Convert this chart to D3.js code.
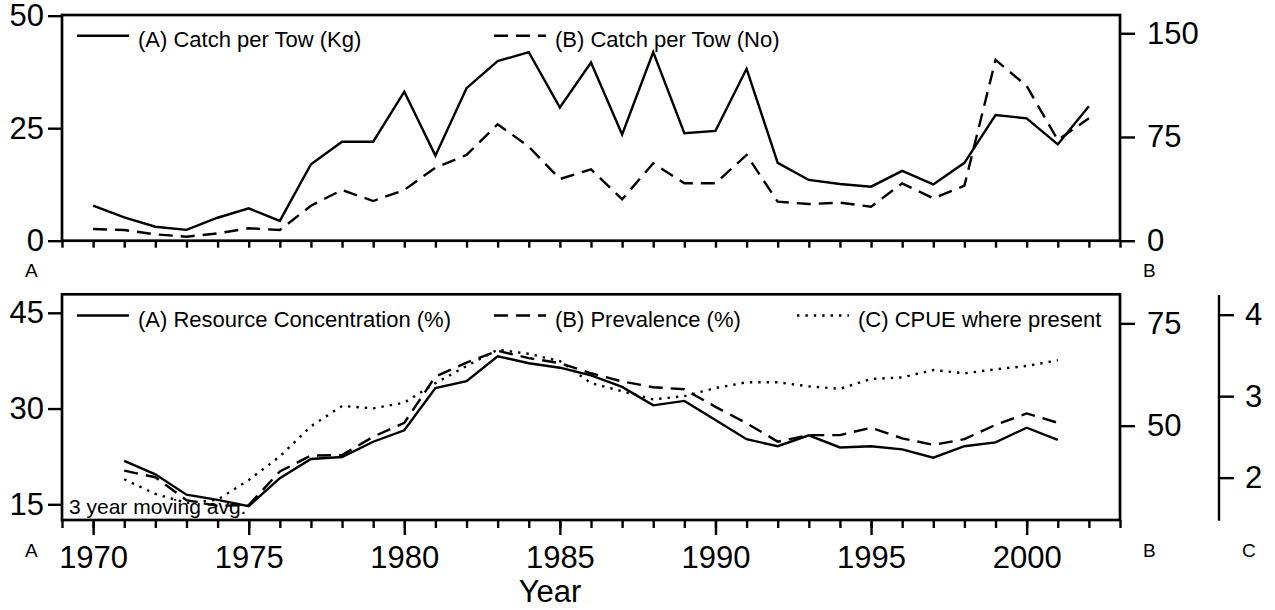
<!DOCTYPE html>
<html>
<head>
<meta charset="utf-8">
<script src="https://cdn.jsdelivr.net/npm/d3@7"></script>
<style>
  body { margin: 0; background: #fff; }
  svg text { font-family: "Liberation Sans", Arial, sans-serif; fill: #000; }
</style>
</head>
<body>
<svg id="chart" width="1275" height="610"></svg>
<script>
// top panel, 1970-2002
const topYears = [1970, 1971, 1972, 1973, 1974, 1975, 1976, 1977, 1978, 1979, 1980, 1981, 1982, 1983, 1984, 1985, 1986,
  1987, 1988, 1989, 1990, 1991, 1992, 1993, 1994, 1995, 1996, 1997, 1998, 1999, 2000, 2001, 2002];
const catchKg = [7.8, 5.2, 3.1, 2.4, 5.1, 7.2, 4.4, 17.0, 22.0, 22.0, 33.1, 18.9, 33.9, 39.9, 41.9, 29.6, 39.6,
  23.6, 41.9, 23.9, 24.4, 38.2, 17.3, 13.5, 12.6, 12.0, 15.5, 12.5, 17.3, 27.9, 27.2, 21.4, 29.9];
const catchNo = [8.5, 7.7, 4.6, 2.9, 5.3, 9.0, 7.7, 25.3, 36.7, 28.7, 36.7, 52.8, 62.0, 84.2, 68.0, 44.6, 51.6,
  29.9, 56.0, 41.5, 41.5, 62.0, 28.2, 26.5, 27.5, 24.6, 41.5, 30.7, 39.8, 130.7, 111.9, 72.8, 88.5];

// bottom panel, 3 year moving avg, 1971-2001
const botYears = [1971, 1972, 1973, 1974, 1975, 1976, 1977, 1978, 1979, 1980, 1981, 1982, 1983, 1984, 1985, 1986,
  1987, 1988, 1989, 1990, 1991, 1992, 1993, 1994, 1995, 1996, 1997, 1998, 1999, 2000, 2001];
const resConc = [21.8, 19.7, 16.5, 15.7, 14.7, 19.1, 22.1, 22.4, 24.8, 26.6, 33.2, 34.3, 38.2, 37.1, 36.4, 35.2,
  33.4, 30.5, 31.2, 28.2, 25.2, 24.1, 25.8, 23.9, 24.1, 23.6, 22.3, 24.1, 24.7, 27.0, 25.1];
const prevalence = [39.0, 37.4, 31.8, 30.4, 30.6, 38.8, 42.7, 42.8, 47.3, 50.7, 62.0, 65.4, 68.3, 66.5, 65.3, 62.8,
  60.8, 59.4, 58.9, 54.6, 50.6, 46.1, 47.7, 47.7, 49.5, 46.9, 45.3, 46.7, 50.2, 53.0, 50.7];
const cpue = [1.98, 1.80, 1.69, 1.73, 1.97, 2.26, 2.63, 2.88, 2.85, 2.92, 3.16, 3.37, 3.57, 3.52, 3.43, 3.16,
  3.06, 2.96, 3.00, 3.10, 3.17, 3.17, 3.12, 3.09, 3.21, 3.23, 3.32, 3.28, 3.33, 3.37, 3.44];

// tick values
const topLeftTicks = [0, 25, 50];
const topRightTicks = [0, 75, 150];
const botLeftTicks = [15, 30, 45];
const botRightTicks = [50, 75];
const cpueTicks = [2, 3, 4];
const yearLabels = [1970, 1975, 1980, 1985, 1990, 1995, 2000];

const svg = d3.select('#chart');
const left = 62, right = 1120;
const top1 = 15, bot1 = 240.7;
const top2 = 294.3, bot2 = 520;
const lw = 2.4;
const fmt = d3.format('d');

const x = d3.scaleLinear().domain([1969, 2003]).range([left, right]);
const allYears = d3.range(1969, 2004);

const yKg = d3.scaleLinear().domain([0, 50.15]).range([bot1, top1]);
const yNo = d3.scaleLinear().domain([0, 163.2]).range([bot1, top1]);
const yRes = d3.scaleLinear().domain([12.54, 47.9]).range([bot2, top2]);
const yPrev = d3.scaleLinear().domain([26.95, 82.1]).range([bot2, top2]);
const yCpue = d3.scaleLinear().domain([1.48, 4.25]).range([bot2, top2]);

function styleAxis(g, fontSize) {
  g.select('.domain').remove();
  g.selectAll('.tick line').attr('stroke', '#000').attr('stroke-width', lw);
  g.selectAll('.tick text').style('font-size', fontSize + 'px').attr('fill', '#000');
}

function drawLine(years, vals, y, dash) {
  const line = d3.line().x((d, i) => x(years[i])).y(d => y(d));
  svg.append('path')
    .datum(vals)
    .attr('fill', 'none')
    .attr('stroke', '#000')
    .attr('stroke-width', lw)
    .attr('stroke-linejoin', 'miter')
    .attr('stroke-dasharray', dash)
    .attr('d', line);
}

// ---- top panel ----
svg.append('g').attr('transform', `translate(${left},0)`)
  .call(d3.axisLeft(yKg).tickValues(topLeftTicks).tickSize(14).tickPadding(4).tickFormat(fmt))
  .call(g => styleAxis(g, 31));
svg.append('g').attr('transform', `translate(${right},0)`)
  .call(d3.axisRight(yNo).tickValues(topRightTicks).tickSize(15).tickPadding(12).tickFormat(fmt))
  .call(g => styleAxis(g, 31));
svg.append('g').attr('transform', `translate(0,${bot1})`)
  .call(d3.axisBottom(x).tickValues(allYears).tickSize(7).tickFormat(''))
  .call(g => styleAxis(g, 31));

drawLine(topYears, catchKg, yKg, null);
drawLine(topYears, catchNo, yNo, '14,8');

svg.append('rect')
  .attr('x', left).attr('y', top1)
  .attr('width', right - left).attr('height', bot1 - top1)
  .attr('fill', 'none').attr('stroke', '#000').attr('stroke-width', lw + 0.3);

// ---- bottom panel ----
svg.append('g').attr('transform', `translate(${left},0)`)
  .call(d3.axisLeft(yRes).tickValues(botLeftTicks).tickSize(14).tickPadding(4).tickFormat(fmt))
  .call(g => styleAxis(g, 31));
svg.append('g').attr('transform', `translate(${right},0)`)
  .call(d3.axisRight(yPrev).tickValues(botRightTicks).tickSize(15).tickPadding(12).tickFormat(fmt))
  .call(g => styleAxis(g, 31));
svg.append('g').attr('transform', `translate(0,${bot2})`)
  .call(d3.axisBottom(x).tickValues(allYears).tickSize(8).tickFormat(''))
  .call(g => styleAxis(g, 31));
svg.append('g').attr('transform', `translate(0,${bot2})`)
  .call(d3.axisBottom(x).tickValues(yearLabels).tickSize(15).tickPadding(11).tickFormat(fmt))
  .call(g => styleAxis(g, 31));

// separate C axis
const cAxis = svg.append('g').attr('transform', 'translate(1219,0)')
  .call(d3.axisRight(yCpue).tickValues(cpueTicks).tickSize(15).tickPadding(11).tickFormat(fmt));
styleAxis(cAxis, 31);
cAxis.append('line')
  .attr('x1', 0).attr('x2', 0).attr('y1', top2 + 0.7).attr('y2', bot2 + 0.7)
  .attr('stroke', '#000').attr('stroke-width', lw);

drawLine(botYears, resConc, yRes, null);
drawLine(botYears, prevalence, yPrev, '14,8');
drawLine(botYears, cpue, yCpue, '2.4,6');

svg.append('rect')
  .attr('x', left).attr('y', top2)
  .attr('width', right - left).attr('height', bot2 - top2)
  .attr('fill', 'none').attr('stroke', '#000').attr('stroke-width', lw + 0.3);

// ---- legends ----
function legendItem(x0, y0, dash, label) {
  svg.append('line')
    .attr('x1', x0).attr('x2', x0 + 52).attr('y1', y0).attr('y2', y0)
    .attr('stroke', '#000').attr('stroke-width', lw)
    .attr('stroke-dasharray', dash);
  svg.append('text')
    .attr('x', x0 + 61).attr('y', y0 + 11)
    .style('font-size', '22px')
    .text(label);
}
legendItem(77, 35.7, null, '(A) Catch per Tow (Kg)');
legendItem(494, 35.7, '14,8', '(B) Catch per Tow (No)');
legendItem(77, 315.5, null, '(A) Resource Concentration (%)');
legendItem(494, 315.5, '14,8', '(B) Prevalence (%)');
legendItem(797, 315.5, '2.4,6', '(C) CPUE where present');

// ---- extra labels ----
svg.append('text').attr('x', 69).attr('y', 514).style('font-size', '21px').text('3 year moving avg.');

const small = [['A', 25, 276.5], ['B', 1143, 276.5], ['A', 25, 556.7], ['B', 1143, 556.5], ['C', 1242, 556.5]];
svg.selectAll('.corner')
  .data(small)
  .enter()
  .append('text')
  .attr('class', 'corner')
  .attr('x', d => d[1])
  .attr('y', d => d[2])
  .style('font-size', '19px')
  .text(d => d[0]);

svg.append('text')
  .attr('x', 550).attr('y', 601.5)
  .attr('text-anchor', 'middle')
  .style('font-size', '31px')
  .text('Year');
</script>
</body>
</html>
